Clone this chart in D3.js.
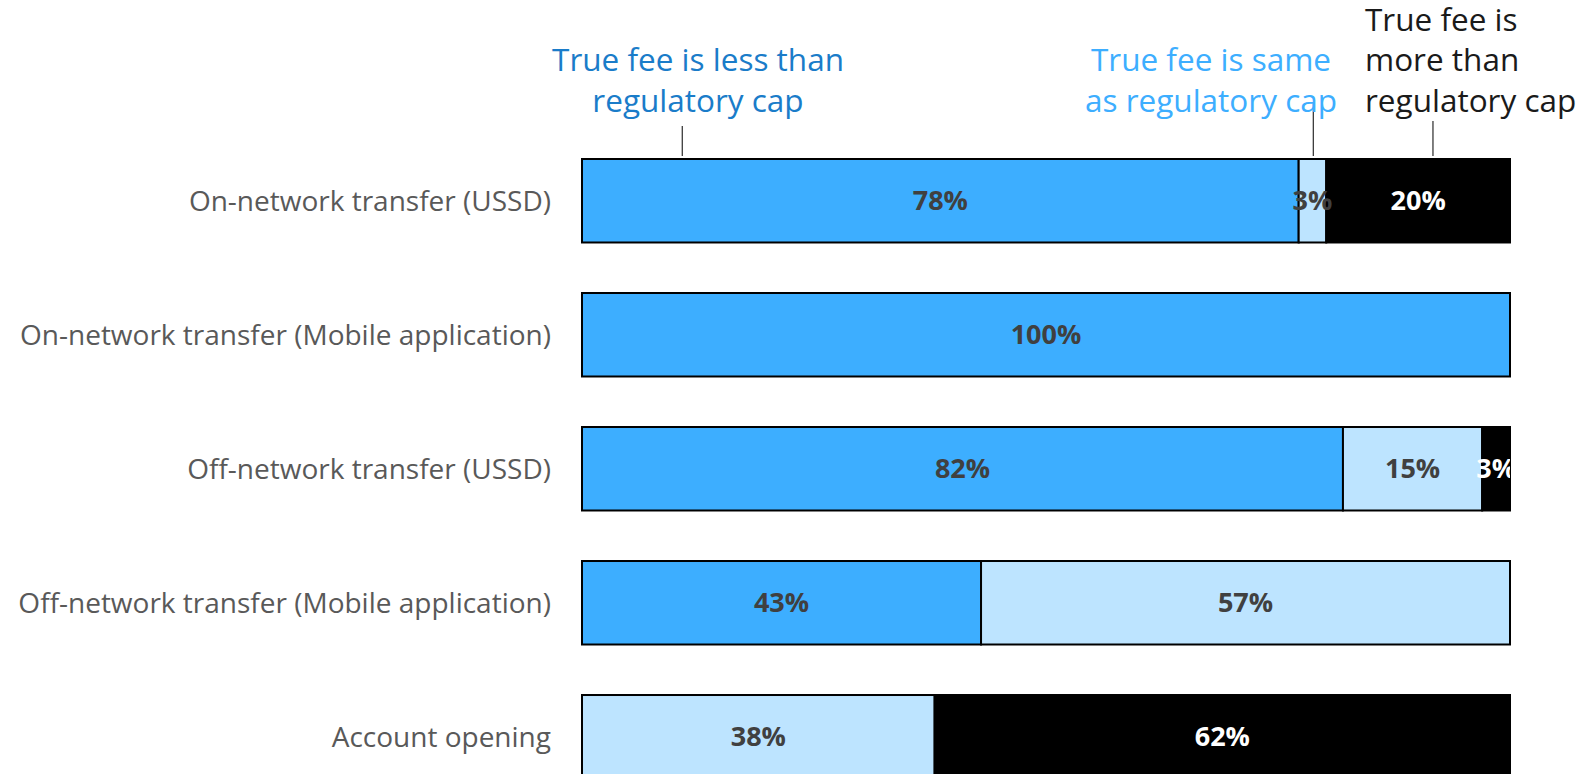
<!DOCTYPE html>
<html>
<head>
<meta charset="utf-8">
<script src="https://cdn.jsdelivr.net/npm/d3@7"></script>
<style>
  html, body { margin: 0; padding: 0; background: #fff; overflow: hidden; }
  text { font-family: "Open Sans", sans-serif; }
</style>
</head>
<body>
<script>
// data
const categories = [
  "On-network transfer (USSD)",
  "On-network transfer (Mobile application)",
  "Off-network transfer (USSD)",
  "Off-network transfer (Mobile application)",
  "Account opening"
];
const lessThanCap = [78, 100, 82, 43, 0];
const sameAsCap   = [3, 0, 15, 57, 38];
const moreThanCap = [20, 0, 3, 0, 62];

// config
const width = 1577, height = 774;
const barLeft = 582, barRight = 1510;
const colors = ["#3DAEFF", "#BDE4FF", "#000000"];
const labelColors = ["#404040", "#404040", "#ffffff"];

const rows = categories.map((c, i) => ({
  cat: c, less: lessThanCap[i], same: sameAsCap[i], more: moreThanCap[i]
}));
const keys = ["less", "same", "more"];
const stacked = d3.stack().keys(keys).offset(d3.stackOffsetExpand)(rows);

const x = d3.scaleLinear().domain([0, 1]).range([barLeft, barRight]);
const y = d3.scaleBand().domain(categories).range([159, 778.5]).paddingInner(0.377).paddingOuter(0);

const svg = d3.select("body").append("svg")
  .attr("width", width).attr("height", height);

svg.append("clipPath").attr("id", "plotClip")
  .append("rect").attr("x", barLeft).attr("y", 0).attr("width", barRight - barLeft).attr("height", height);

// bars
const layers = svg.append("g").selectAll("g")
  .data(stacked)
  .join("g")
    .attr("fill", (d, i) => colors[i]);

layers.selectAll("rect")
  .data(d => d.filter(s => s[1] - s[0] > 0))
  .join("rect")
    .attr("x", d => x(d[0]))
    .attr("y", d => y(d.data.cat))
    .attr("width", d => x(d[1]) - x(d[0]))
    .attr("height", y.bandwidth())
    .attr("stroke", "#000")
    .attr("stroke-width", 2);

// value labels
const labels = svg.append("g").attr("clip-path", "url(#plotClip)");
stacked.forEach((layer, li) => {
  labels.selectAll(null)
    .data(layer.filter(s => s[1] - s[0] > 0))
    .join("text")
      .attr("x", d => x((d[0] + d[1]) / 2))
      .attr("y", d => y(d.data.cat) + y.bandwidth() / 2)
      .attr("dy", "0.36em")
      .attr("text-anchor", "middle")
      .attr("fill", labelColors[li])
      .style("font-size", "27px")
      .style("font-weight", 700)
      .text(d => d.data[layer.key] + "%");
});

// category labels
svg.append("g").selectAll("text")
  .data(categories)
  .join("text")
    .attr("x", 551)
    .attr("y", d => y(d) + y.bandwidth() / 2)
    .attr("dy", "0.36em")
    .attr("text-anchor", "end")
    .attr("fill", "#595959")
    .style("font-size", "28px")
    .text(d => d);

// annotations
const annot = [
  { lines: ["True fee is less than", "regulatory cap"], color: "#1A7CC9", at: 0.108, anchor: "middle", tx: 698, ty: [60, 101], y1: 126 },
  { lines: ["True fee is same", "as regulatory cap"], color: "#3DAEFF", at: 0.788, anchor: "middle", tx: 1211, ty: [60, 101], y1: 104 },
  { lines: ["True fee is", "more than", "regulatory cap"], color: "#1a1a1a", at: 0.917, anchor: "start", tx: 1365, ty: [20, 60, 101], y1: 121 }
];
const ag = svg.append("g");
annot.forEach(a => {
  ag.append("line")
    .attr("x1", x(a.at)).attr("x2", x(a.at))
    .attr("y1", a.y1).attr("y2", 156)
    .attr("stroke", "#000").attr("stroke-width", 1);
  a.lines.forEach((l, i) => {
    ag.append("text")
      .attr("x", a.tx).attr("y", a.ty[i])
      .attr("dy", "0.36em")
      .attr("text-anchor", a.anchor)
      .attr("fill", a.color)
      .style("font-size", "31.5px")
      .text(l);
  });
});
</script>
</body>
</html>
